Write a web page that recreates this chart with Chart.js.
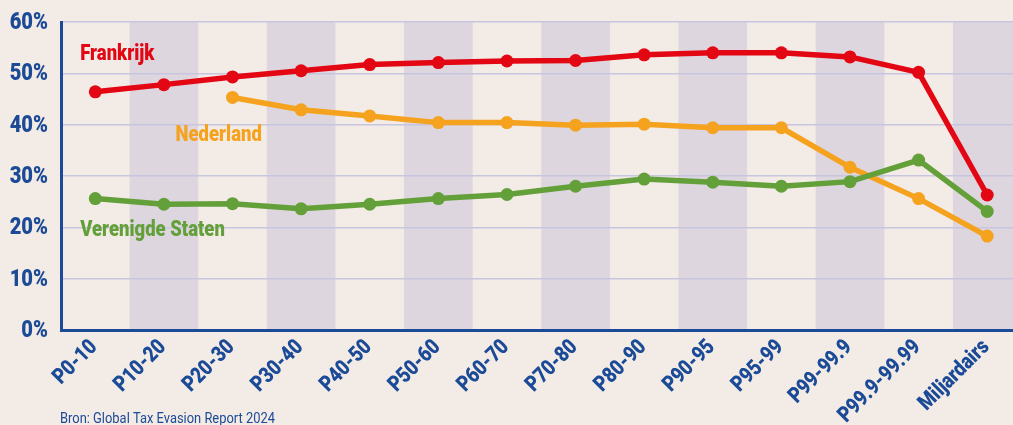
<!DOCTYPE html>
<html>
<head>
<meta charset="utf-8">
<script src="https://cdn.jsdelivr.net/npm/chart.js@4"></script>
<style>
  html, body { margin: 0; padding: 0; background: #f3ebe6; overflow: hidden; }
  #wrap { width: 1028px; height: 425px; position: relative; }
</style>
</head>
<body>
<div id="wrap"><canvas id="taxChart"></canvas></div>
<script>
'use strict';

// --- data ---
const GROUPS = ['P0-10', 'P10-20', 'P20-30', 'P30-40', 'P40-50', 'P50-60', 'P60-70',
  'P70-80', 'P80-90', 'P90-95', 'P95-99', 'P99-99.9', 'P99.9-99.99', 'Miljardairs'];
const FRANKRIJK = [46.4, 47.8, 49.3, 50.5, 51.7, 52.1, 52.4, 52.5, 53.6, 54.0, 54.0, 53.2, 50.2, 26.3];
const NEDERLAND = [null, null, 45.3, 42.9, 41.7, 40.4, 40.4, 39.9, 40.1, 39.4, 39.4, 31.7, 25.6, 18.3];
const VS = [25.6, 24.5, 24.6, 23.6, 24.5, 25.6, 26.4, 28.0, 29.4, 28.8, 28.0, 28.9, 33.1, 23.1];
const Y_TICKS = [0, 10, 20, 30, 40, 50, 60];
const SOURCE = 'Bron: Global Tax Evasion Report 2024';

const BLUE = '#1b4a96';
const FONT = 'Roboto, "Liberation Sans", sans-serif';

// text squeezed horizontally to mimic the condensed face of the original
function narrowText(ctx, text, x, y, sx) {
  ctx.save();
  ctx.translate(x, y);
  ctx.scale(sx, 1);
  ctx.fillText(text, 0, 0);
  ctx.restore();
}

// alternate shaded bands behind odd categories
const bandsPlugin = {
  id: 'bands',
  beforeDraw(chart) {
    const { ctx, chartArea, scales } = chart;
    const x = scales.x;
    const w = x.getPixelForValue(1) - x.getPixelForValue(0);
    ctx.save();
    ctx.fillStyle = '#ddd6de';
    GROUPS.forEach((g, i) => {
      if (i % 2 === 1) {
        const cx = x.getPixelForValue(i);
        ctx.fillRect(cx - w / 2, chartArea.top, w, chartArea.bottom - chartArea.top);
      }
    });
    ctx.restore();
  },
};

// series names inside the plot, axis labels and source line
const labelsPlugin = {
  id: 'seriesLabels',
  afterDatasetsDraw(chart) {
    const { ctx, scales, chartArea } = chart;
    const x = scales.x, y = scales.y;
    ctx.save();

    // y tick labels
    ctx.fillStyle = BLUE;
    ctx.font = '900 24px ' + FONT;
    ctx.textAlign = 'right';
    ctx.textBaseline = 'middle';
    Y_TICKS.forEach(v => narrowText(ctx, v + '%', chartArea.left - 13, y.getPixelForValue(v) + 1, 0.84));

    // x tick labels, rotated 45deg
    ctx.font = '900 22px ' + FONT;
    GROUPS.forEach((g, i) => {
      ctx.save();
      ctx.translate(x.getPixelForValue(i) - 1, chartArea.bottom + 14);
      ctx.rotate(-Math.PI / 4);
      ctx.scale(0.84, 1);
      ctx.fillText(g, 0, 0);
      ctx.restore();
    });

    // series names
    const put = (text, color, xi, yv) => {
      ctx.fillStyle = color;
      narrowText(ctx, text, x.getPixelForValue(xi), y.getPixelForValue(yv), 0.84);
    };
    ctx.font = '900 22px ' + FONT;
    ctx.textAlign = 'left';
    put('Frankrijk', '#e30613', -0.22, 53.6);
    put('Nederland', '#f5a21f', 1.17, 37.8);
    put('Verenigde Staten', '#64a03a', -0.22, 19.4);

    // source
    ctx.font = '15px ' + FONT;
    ctx.fillStyle = BLUE;
    ctx.textBaseline = 'alphabetic';
    narrowText(ctx, SOURCE, 60, 423, 0.86);
    ctx.restore();
  },
};

function series(label, data, color) {
  return {
    label,
    data,
    borderColor: color,
    backgroundColor: color,
    borderWidth: 5.5,
    pointRadius: 6.5,
    pointHoverRadius: 6.5,
    pointBorderWidth: 0,
    tension: 0,
    spanGaps: false,
  };
}

new Chart(document.getElementById('taxChart').getContext('2d'), {
  type: 'line',
  data: {
    labels: GROUPS,
    datasets: [
      series('Verenigde Staten', VS, '#64a03a'),
      series('Nederland', NEDERLAND, '#f5a21f'),
      series('Frankrijk', FRANKRIJK, '#e30613'),
    ],
  },
  options: {
    responsive: true,
    maintainAspectRatio: false,
    animation: false,
    layout: { padding: { top: 22, right: 0, bottom: 0, left: 0 } },
    plugins: {
      legend: { display: false },
      tooltip: { enabled: false },
    },
    scales: {
      x: {
        offset: true,
        grid: { display: false, drawOnChartArea: false, drawTicks: false },
        border: { display: true, color: BLUE, width: 3 },
        ticks: { display: false, autoSkip: false },
        afterFit(s) { s.height = 95; },
      },
      y: {
        min: 0,
        max: 60,
        afterBuildTicks(s) { s.ticks = Y_TICKS.map(v => ({ value: v })); },
        grid: { color: '#c8c5df', lineWidth: 1.5, drawTicks: false },
        border: { display: true, color: BLUE, width: 3 },
        ticks: { display: false },
        afterFit(s) { s.width = 61; },
      },
    },
  },
  plugins: [bandsPlugin, labelsPlugin],
});
</script>
</body>
</html>
